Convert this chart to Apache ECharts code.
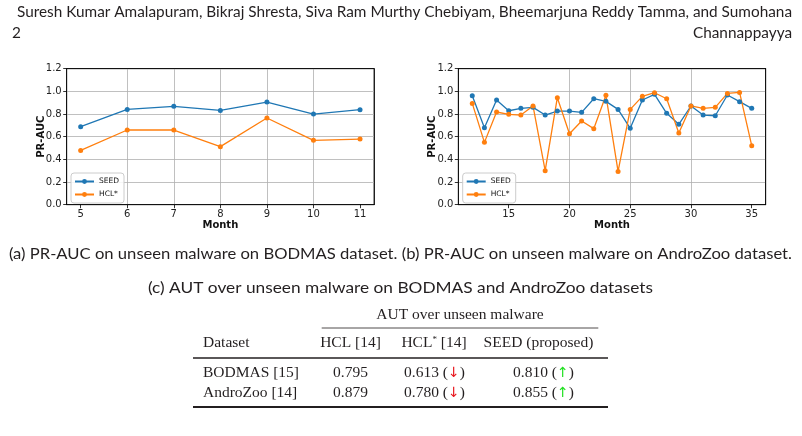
<!DOCTYPE html>
<html><head><meta charset="utf-8">
<script src="https://cdn.jsdelivr.net/npm/echarts@6/dist/echarts.min.js"></script>
<style>html,body{margin:0;padding:0;background:#fff}#c{width:802px;height:436px}</style>
</head><body><div id="c"></div>
<script>
// ---- data ----
const monthsA = [5, 6, 7, 8, 9, 10, 11];
const seedA = [0.688, 0.841, 0.868, 0.832, 0.906, 0.800, 0.838];
const hclA  = [0.479, 0.659, 0.659, 0.512, 0.765, 0.568, 0.579];

const monthsB = [12,13,14,15,16,17,18,19,20,21,22,23,24,25,26,27,28,29,30,31,32,33,34,35];
const seedB = [0.962,0.679,0.924,0.829,0.850,0.859,0.791,0.826,0.826,0.815,0.935,0.912,0.841,0.674,0.924,0.974,0.806,0.709,0.871,0.791,0.785,0.968,0.909,0.850];
const hclB  = [0.894,0.550,0.818,0.797,0.791,0.871,0.300,0.944,0.626,0.738,0.671,0.965,0.294,0.841,0.956,0.988,0.935,0.632,0.871,0.850,0.859,0.982,0.991,0.521];

const xTicksA = [5, 6, 7, 8, 9, 10, 11];
const xTicksB = [15, 20, 25, 30, 35];
const seriesNames = ['SEED', 'HCL*'];

const headerLine1 = 'Suresh Kumar Amalapuram, Bikraj Shresta, Siva Ram Murthy Chebiyam, Bheemarjuna Reddy Tamma, and Sumohana';
const headerPage = '2';
const headerLine2 = 'Channappayya';
const captionAB = '(a) PR-AUC on unseen malware on BODMAS dataset. (b) PR-AUC on unseen malware on AndroZoo dataset.';
const captionC = '(c) AUT over unseen malware on BODMAS and AndroZoo datasets';
const tableGroupHeader = 'AUT over unseen malware';
const tableColHeaders = ['Dataset', 'HCL [14]', 'HCL{s|*} [14]', 'SEED (proposed)'];
const tableRowNames = ['BODMAS [15]', 'AndroZoo [14]'];
const tableHCL = ['0.795', '0.879'];
const tableHCLstar = ['0.613', '0.780'];
const tableSEED = ['0.810', '0.855'];

// ---- helpers ----
const C_SEED = '#1f77b4', C_HCL = '#ff7f0e';
const TF = 'DejaVu Sans';
const mctx = document.createElement('canvas').getContext('2d');
function fitScale(text, font, target) { mctx.font = font; return target / mctx.measureText(text).width; }

function xAxisCfg(gi, min, max, ticks) {
  return {
    type: 'value', gridIndex: gi, min: min, max: max, position: 'bottom',
    axisLine: { show: true, onZero: false, lineStyle: { color: '#000', width: 0.8 } },
    axisTick: { show: true, customValues: ticks, length: 3.5, lineStyle: { color: '#000', width: 0.8 } },
    axisLabel: { customValues: ticks, margin: 5, fontFamily: TF, fontSize: 10, color: '#222' },
    splitLine: { show: true, showMinLine: false, showMaxLine: false, lineStyle: { color: '#b0b0b0', width: 0.8 } },
    name: 'Month', nameLocation: 'middle', nameGap: 12,
    nameTextStyle: { fontFamily: TF, fontWeight: 'bold', fontSize: 10, color: '#111', verticalAlign: 'top' }
  };
}
function xFrame(gi, min, max) {
  return { type: 'value', gridIndex: gi, min: min, max: max, position: 'top', z: 10,
    axisLine: { show: true, onZero: false, lineStyle: { color: '#000', width: 0.8 } },
    axisTick: { show: false }, axisLabel: { show: false }, splitLine: { show: false } };
}
function yAxisCfg(gi) {
  return {
    type: 'value', gridIndex: gi, min: 0, max: 1.2, interval: 0.2, position: 'left',
    axisLine: { show: true, onZero: false, lineStyle: { color: '#000', width: 0.8 } },
    axisTick: { show: true, length: 3.5, lineStyle: { color: '#000', width: 0.8 } },
    axisLabel: { margin: 5, fontFamily: TF, fontSize: 10, color: '#222', formatter: v => v.toFixed(1) },
    splitLine: { show: true, showMinLine: false, showMaxLine: false, lineStyle: { color: '#b0b0b0', width: 0.8 } }
  };
}
function yFrame(gi) {
  return { type: 'value', gridIndex: gi, min: 0, max: 1.2, position: 'right', z: 10,
    axisLine: { show: true, onZero: false, lineStyle: { color: '#000', width: 0.8 } },
    axisTick: { show: false }, axisLabel: { show: false }, splitLine: { show: false } };
}
function lineSeries(name, color, xi, yi, xs, ys) {
  return {
    type: 'line', name: name, xAxisIndex: xi, yAxisIndex: yi,
    data: xs.map((m, i) => [m, ys[i]]),
    symbol: 'circle', symbolSize: 5, showSymbol: true,
    lineStyle: { color: color, width: 1.3 }, itemStyle: { color: color },
    z: 3, animation: false
  };
}
function legendCfg(left) {
  return {
    data: seriesNames, orient: 'vertical', left: left, top: 173,
    itemWidth: 19, itemHeight: 6, itemGap: 4,
    padding: [4, 5, 4, 3],
    backgroundColor: 'rgba(255,255,255,0.85)', borderColor: '#cccccc', borderWidth: 1, borderRadius: 3,
    textStyle: { fontFamily: TF, fontSize: 7.5, color: '#111', lineHeight: 9 },
    selectedMode: false
  };
}

// ---- text graphics ----
const HF = '15px Lato';
const TXT = '#231f20';
const sH = fitScale(headerLine1, HF, 775);
const sA = fitScale(captionAB, HF, 783);
const sC = fitScale(captionC, HF, 505);
const SF = '15.5px "Liberation Serif"';
function T(x, y, text, font, align, scaleX, extra) {
  const st = Object.assign({ text: text, font: font, fill: TXT, textAlign: align, align: align,
    textVerticalAlign: 'middle', verticalAlign: 'middle' }, extra || {});
  return { type: 'text', x: x, y: y, scaleX: scaleX || 1, style: st, silent: true };
}
function L(x1, x2, y, w) {
  return { type: 'line', shape: { x1: x1, y1: y, x2: x2, y2: y }, style: { stroke: TXT, lineWidth: w }, silent: true };
}
const rich = {
  s: { fontFamily: 'Liberation Serif', fontSize: 9, fill: TXT, color: TXT, verticalAlign: 'top' },
  d: { fontFamily: 'DejaVu Sans', fontSize: 14, fill: '#e8141b', color: '#e8141b' },
  u: { fontFamily: 'DejaVu Sans', fontSize: 14, fill: '#22e022', color: '#22e022' }
};
const colX = [203, 350.5, 434, 538.5];
const colValX = [203, 350.5, 434.5, 543.5];
const rowY = [373, 393];

const graphics = [
  T(17, 12, headerLine1, HF, 'left', sH),
  T(12, 33, headerPage, HF, 'left', sH),
  T(792, 33, headerLine2, HF, 'right', sH),
  T(9, 254, captionAB, HF, 'left', sA),
  T(400.5, 288, captionC, HF, 'center', sC),
  T(460, 315, tableGroupHeader, SF, 'center'),
  L(321.7, 598.3, 328, 0.8),
  T(colX[0], 343, tableColHeaders[0], SF, 'left'),
  T(colX[1], 343, tableColHeaders[1], SF, 'center'),
  T(colX[2], 343, tableColHeaders[2], SF, 'center', 1, { rich: rich }),
  T(colX[3], 343, tableColHeaders[3], SF, 'center'),
  L(193, 608, 358, 1.3),
  L(193, 608, 407, 1.8)
];
tableRowNames.forEach((n, i) => {
  graphics.push(T(colValX[0], rowY[i], n, SF, 'left'));
  graphics.push(T(colValX[1], rowY[i], tableHCL[i], SF, 'center'));
  graphics.push(T(colValX[2], rowY[i], tableHCLstar[i] + ' ({d|↓})', SF, 'center', 1, { rich: rich }));
  graphics.push(T(colValX[3], rowY[i], tableSEED[i] + ' ({u|↑})', SF, 'center', 1, { rich: rich }));
});
graphics.push({ type: 'text', x: 41.7, y: 136.7, rotation: Math.PI / 2, silent: true,
  style: { text: 'PR-AUC', font: 'bold 10px "DejaVu Sans"', fill: '#111', textAlign: 'center', align: 'center', textVerticalAlign: 'middle', verticalAlign: 'middle' } });
graphics.push({ type: 'text', x: 432.3, y: 136.7, rotation: Math.PI / 2, silent: true,
  style: { text: 'PR-AUC', font: 'bold 10px "DejaVu Sans"', fill: '#111', textAlign: 'center', align: 'center', textVerticalAlign: 'middle', verticalAlign: 'middle' } });

const option = {
  animation: false,
  backgroundColor: '#fff',
  grid: [
    { left: 66.7, top: 68.7, width: 307.3, height: 136, show: true, borderColor: '#000', borderWidth: 0.8, backgroundColor: 'transparent' },
    { left: 458.3, top: 68.7, width: 307.4, height: 136, show: true, borderColor: '#000', borderWidth: 0.8, backgroundColor: 'transparent' }
  ],
  xAxis: [xAxisCfg(0, 4.7, 11.3, xTicksA), xAxisCfg(1, 10.85, 36.15, xTicksB), xFrame(0, 4.7, 11.3), xFrame(1, 10.85, 36.15)],
  yAxis: [yAxisCfg(0), yAxisCfg(1), yFrame(0), yFrame(1)],
  legend: [legendCfg(71), legendCfg(462.7)],
  series: [
    lineSeries('SEED', C_SEED, 0, 0, monthsA, seedA),
    lineSeries('HCL*', C_HCL, 0, 0, monthsA, hclA),
    lineSeries('SEED', C_SEED, 1, 1, monthsB, seedB),
    lineSeries('HCL*', C_HCL, 1, 1, monthsB, hclB)
  ],
  graphic: graphics
};
const chart = echarts.init(document.getElementById('c'));
chart.setOption(option);
</script></body></html>
